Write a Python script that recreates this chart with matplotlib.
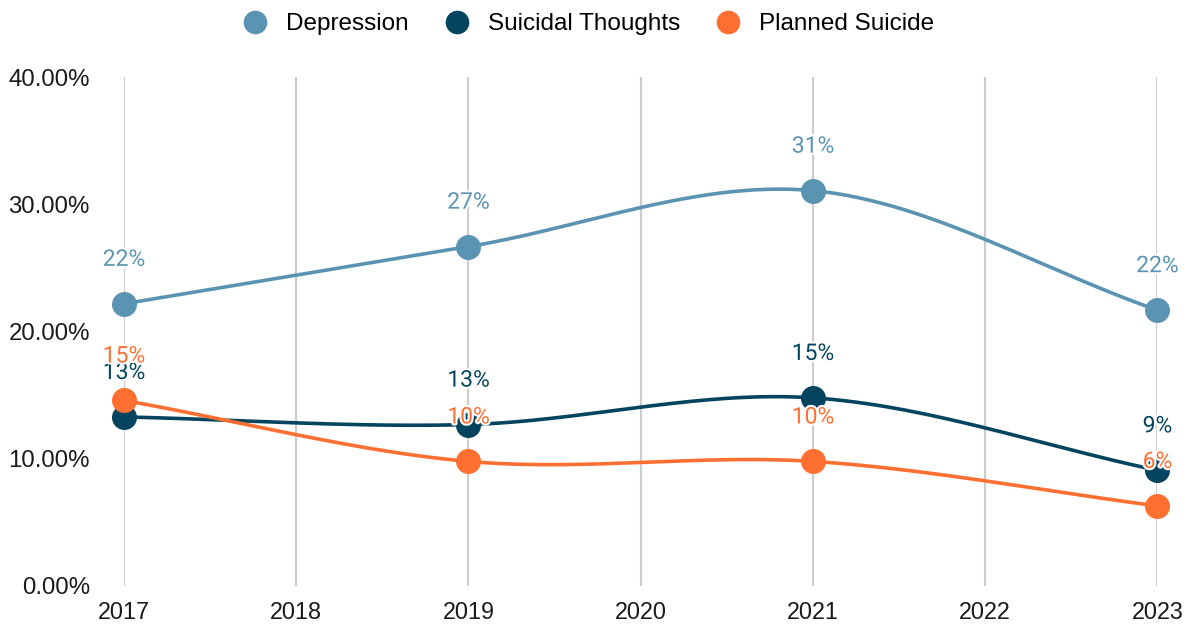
import numpy as np
import matplotlib
matplotlib.use("Agg")
import matplotlib.pyplot as plt
import matplotlib.patheffects as pe
from matplotlib.lines import Line2D

years = [2017, 2019, 2021, 2023]
depression = [22.2, 26.7, 31.1, 21.7]
suicidal = [13.3, 12.7, 14.8, 9.1]
planned = [14.6, 9.8, 9.8, 6.3]
series_names = ["Depression", "Suicidal Thoughts", "Planned Suicide"]
colors = ["#5b93b3", "#05445e", "#ff6f31"]
xticks = [2017, 2018, 2019, 2020, 2021, 2022, 2023]
yticks = [0, 10, 20, 30, 40]


def smooth(x, y, n=60):
    x = np.asarray(x, float)
    y = np.asarray(y, float)
    m = np.zeros_like(y)
    for i in range(len(x)):
        if i == 0:
            m[i] = (y[1] - y[0]) / (x[1] - x[0])
        elif i == len(x) - 1:
            m[i] = (y[-1] - y[-2]) / (x[-1] - x[-2])
        else:
            m[i] = (y[i + 1] - y[i - 1]) / (x[i + 1] - x[i - 1])
    xs, ys = [], []
    for i in range(len(x) - 1):
        h = x[i + 1] - x[i]
        t = np.linspace(0, 1, n)
        h00 = 2 * t**3 - 3 * t**2 + 1
        h10 = t**3 - 2 * t**2 + t
        h01 = -2 * t**3 + 3 * t**2
        h11 = t**3 - t**2
        xs.append(x[i] + t * h)
        ys.append(h00 * y[i] + h10 * h * m[i] + h01 * y[i + 1] + h11 * h * m[i + 1])
    return np.concatenate(xs), np.concatenate(ys)


fig = plt.figure(figsize=(11.92, 6.27), dpi=100)
ax = fig.add_axes([0.104, 0.0654, 0.867, 0.811])
ax.set_xlim(2017, 2023)
ax.set_ylim(0, 40)
for s in ax.spines.values():
    s.set_visible(False)
ax.set_xticks(xticks)
ax.set_xticklabels([str(v) for v in xticks], fontsize=16.8, family="Liberation Sans", color="#1a1a1a")
ax.set_yticks(yticks)
ax.set_yticklabels(["%.2f%%" % v for v in yticks], fontsize=17.3, family="Liberation Sans", color="#1a1a1a")
ax.tick_params(axis="both", length=0)
ax.tick_params(axis="x", pad=10.5)
ax.tick_params(axis="y", pad=24.5)
ax.xaxis.grid(True, color="#cccccc", linewidth=1.5)
ax.yaxis.grid(False)
ax.set_axisbelow(True)

all_series = [depression, suicidal, planned]
for vals, c in zip(all_series, colors):
    sx, sy = smooth(years, vals)
    ax.plot(sx, sy, color=c, linewidth=2.6, zorder=3, solid_capstyle="round", clip_on=False)
    ax.plot(years, vals, "o", color=c, markersize=18, zorder=4, clip_on=False, markeredgewidth=0)

for vals, c in zip(all_series, colors):
    for xv, yv in zip(years, vals):
        ax.annotate("%d%%" % round(yv), (xv, yv), xytext=(0, 32), textcoords="offset points",
                    ha="center", va="center", fontsize=16.5, family="Roboto", color=c, zorder=6,
                    path_effects=[pe.withStroke(linewidth=3, foreground="white")])

handles = [Line2D([], [], marker="o", linestyle="", color=c, markersize=17, markeredgewidth=0) for c in colors]
fig.legend(handles, series_names, loc="center", bbox_to_anchor=(0.494, 0.961), ncol=3, frameon=False,
           prop={"family": "Liberation Sans", "size": 17.5}, handlelength=1.0, handletextpad=0.78,
           columnspacing=1.47, borderaxespad=0, borderpad=0)

fig.savefig("out.png", dpi=100, facecolor="white")
